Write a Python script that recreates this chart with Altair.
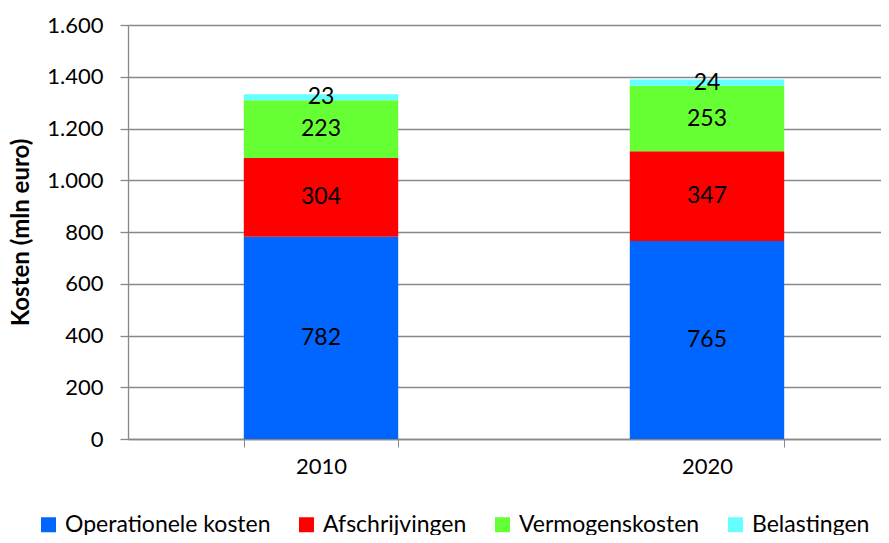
import altair as alt
import pandas as pd

years = ["2010", "2020"]
categories = ["Operationele kosten", "Afschrijvingen", "Vermogenskosten", "Belastingen"]
values_2010 = [782, 304, 223, 23]
values_2020 = [765, 347, 253, 24]
colors = ["#0066FF", "#FF0000", "#66FF33", "#66FFFF"]
y_ticks = [0, 200, 400, 600, 800, 1000, 1200, 1400, 1600]

rows = []
for year, vals in zip(years, [values_2010, values_2020]):
    for i, (cat, v) in enumerate(zip(categories, vals)):
        rows.append({"jaar": year, "categorie": cat, "waarde": v, "volgorde": i})
df = pd.DataFrame(rows)

FONT = "Lato"

base = alt.Chart(df).encode(
    x=alt.X("jaar:N", title=None,
            scale=alt.Scale(paddingInner=0.6, paddingOuter=0.3, range=[0, 772]),
            axis=alt.Axis(labelAngle=0, tickBand="extent", tickSize=8, labelFontSize=22,
                          labelPadding=9, labelFont=FONT, labelColor="#000000",
                          domainColor="#888888", tickColor="#888888", grid=False)),
)

bars = base.mark_bar().encode(
    y=alt.Y("sum(waarde):Q", stack="zero", title="Kosten (mln euro)",
            scale=alt.Scale(domain=[0, 1600], nice=False),
            axis=alt.Axis(values=y_ticks, tickSize=8, labelPadding=17, labelFontSize=22,
                          labelFont=FONT, labelColor="#000000",
                          labelExpr="replace(format(datum.value, ',d'), ',', '.')",
                          titleFont=FONT, titleFontSize=24, titleFontWeight="bold",
                          titleColor="#000000", titleX=-107, titleY=207,
                          titleBaseline="middle", titleAngle=-90, titleAlign="center",
                          domainColor="#888888", tickColor="#888888",
                          gridColor="#888888", gridWidth=1.3, domainWidth=1.3, tickWidth=1.3)),
    color=alt.Color("categorie:N", scale=alt.Scale(domain=categories, range=colors),
                    legend=alt.Legend(title=None, orient="none", direction="horizontal",
                                      legendX=-91, legendY=488, symbolType="square",
                                      symbolSize=225, symbolOpacity=1, labelFontSize=23,
                                      labelFont=FONT, labelColor="#000000", columnPadding=24,
                                      labelLimit=500, symbolStrokeWidth=0, labelOffset=5)),
    order=alt.Order("volgorde:Q", sort="ascending"),
)

labels = base.mark_text(fontSize=23, font=FONT, color="#000000", baseline="middle").encode(
    y=alt.Y("mid:Q"),
    text=alt.Text("waarde:Q"),
).transform_stack(
    stack="waarde", groupby=["jaar"], as_=["lo", "hi"], sort=[alt.SortField("volgorde", order="ascending")]
).transform_calculate(mid="(datum.lo + datum.hi) / 2")

chart = alt.layer(bars, labels).properties(
    width=753, height=414,
    autosize=alt.AutoSizeParams(type="none"),
    padding={"left": 120, "top": 17, "right": 0, "bottom": 96},
).configure_view(stroke=None).configure_axis(domainWidth=1.3)

chart.save("out.html", embed_options={"renderer": "svg", "actions": False})
